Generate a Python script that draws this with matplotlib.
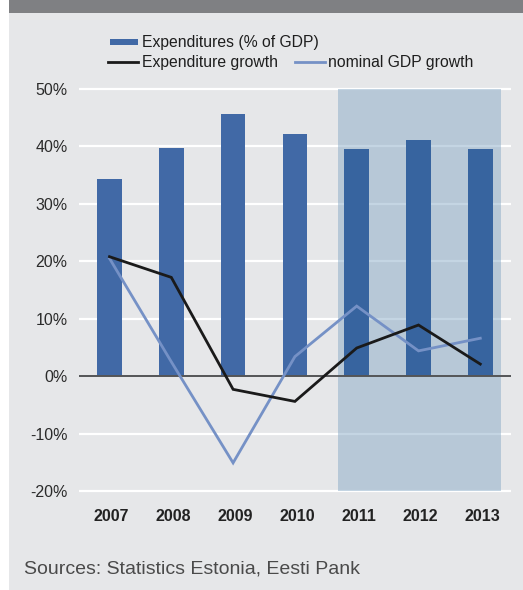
import matplotlib
matplotlib.use("Agg")
import matplotlib.pyplot as plt
from matplotlib.patches import Rectangle
from matplotlib.lines import Line2D
from matplotlib.transforms import ScaledTranslation

plt.rcParams['font.family'] = ['Liberation Sans', 'DejaVu Sans']

years = ["2007", "2008", "2009", "2010", "2011", "2012", "2013"]
expenditures_pct_gdp = [34.3, 39.7, 45.6, 42.2, 39.5, 41.1, 39.5]
expenditure_growth = [20.8, 17.2, -2.3, -4.4, 4.9, 8.9, 2.1]
nominal_gdp_growth = [20.5, 2.5, -15.1, 3.4, 12.2, 4.4, 6.6]
y_ticks = [-20, -10, 0, 10, 20, 30, 40, 50]
forecast_start = 4  # index of first shaded year

W, H = 523, 590
fig = plt.figure(figsize=(W / 100, H / 100), dpi=100, facecolor="white")

# panel background and header band
fig.patches.append(Rectangle((9 / W, 0), 1, 1, transform=fig.transFigure,
                             facecolor="#e6e7e9", edgecolor="none", zorder=-10))
fig.patches.append(Rectangle((9 / W, 1 - 13 / H), 1, 13 / H, transform=fig.transFigure,
                             facecolor="#7f8083", edgecolor="none", zorder=-9))

# axes geometry (pixels)
ppu = (491 - 89) / 70.0
ylo, yhi = -20.5, 50.5
ax_top = 89 - (yhi - 50) * ppu
ax_bot = 491 + (-20 - ylo) * ppu
ax_left, ax_right = 78.6, 511.2
ax = fig.add_axes([ax_left / W, 1 - ax_bot / H, (ax_right - ax_left) / W, (ax_bot - ax_top) / H])
ax.set_facecolor("none")
ax.set_zorder(1)

x = list(range(len(years)))
ax.set_xlim(-0.5, len(years) - 0.5)
ax.set_ylim(ylo, yhi)

# grid lines
for t in y_ticks:
    if t != 0:
        ax.axhline(t, color="white", lw=1.6, zorder=1)

# shaded period
ax.add_patch(Rectangle((forecast_start - 0.30, -20), 2.63, 70, facecolor="#7ea3c2",
                       alpha=0.45, edgecolor="none", zorder=2))

bar_colors = ["#4169a6" if i < forecast_start else "#37649f" for i in x]
ax.bar(x, expenditures_pct_gdp, width=0.4, color=bar_colors, zorder=3)

ax.axhline(0, color="#545557", lw=1.4, zorder=4)

ax.plot(x, nominal_gdp_growth, color="#7591c6", lw=2.0, zorder=5, solid_joinstyle="miter")
ax.plot(x, expenditure_growth, color="#1a1a1a", lw=2.0, zorder=6, solid_joinstyle="miter")

for s in ax.spines.values():
    s.set_visible(False)
ax.set_yticks(y_ticks)
ax.set_yticklabels([f"{t}%" for t in y_ticks], fontsize=11.5, color="#2b2b2b")
ax.set_xticks(x)
ax.set_xticklabels(years, fontsize=11.5, fontweight="bold", color="#222222")
ax.tick_params(axis="y", length=0, pad=8)
ax.tick_params(axis="x", length=0, pad=11)
nudge = ScaledTranslation(2 / 100, 0, fig.dpi_scale_trans)
for lbl in ax.get_xticklabels():
    lbl.set_transform(lbl.get_transform() + nudge)

# legend
def fx(px):
    return px / W

def fy(py):
    return 1 - py / H

fig.patches.append(Rectangle((fx(110), fy(45)), fx(28), 5.5 / H, transform=fig.transFigure,
                             facecolor="#4169a6", edgecolor="none", zorder=3))
fig.text(fx(142), fy(42), "Expenditures (% of GDP)", fontsize=11.3, va="center", ha="left",
         color="#1e1e1e")
fig.lines.append(Line2D([fx(108), fx(138)], [fy(62), fy(62)], transform=fig.transFigure,
                        color="#1a1a1a", lw=2.0))
fig.text(fx(142), fy(62), "Expenditure growth", fontsize=11.3, va="center", ha="left",
         color="#1e1e1e")
fig.lines.append(Line2D([fx(295), fx(325)], [fy(62), fy(62)], transform=fig.transFigure,
                        color="#7591c6", lw=2.0))
fig.text(fx(328), fy(62), "nominal GDP growth", fontsize=11.3, va="center", ha="left",
         color="#1e1e1e")

fig.text(fx(24), fy(569), "Sources: Statistics Estonia, Eesti Pank", fontsize=14,
         va="center", ha="left", color="#4a4a4a")

fig.savefig("out.png", dpi=100, facecolor=fig.get_facecolor())
